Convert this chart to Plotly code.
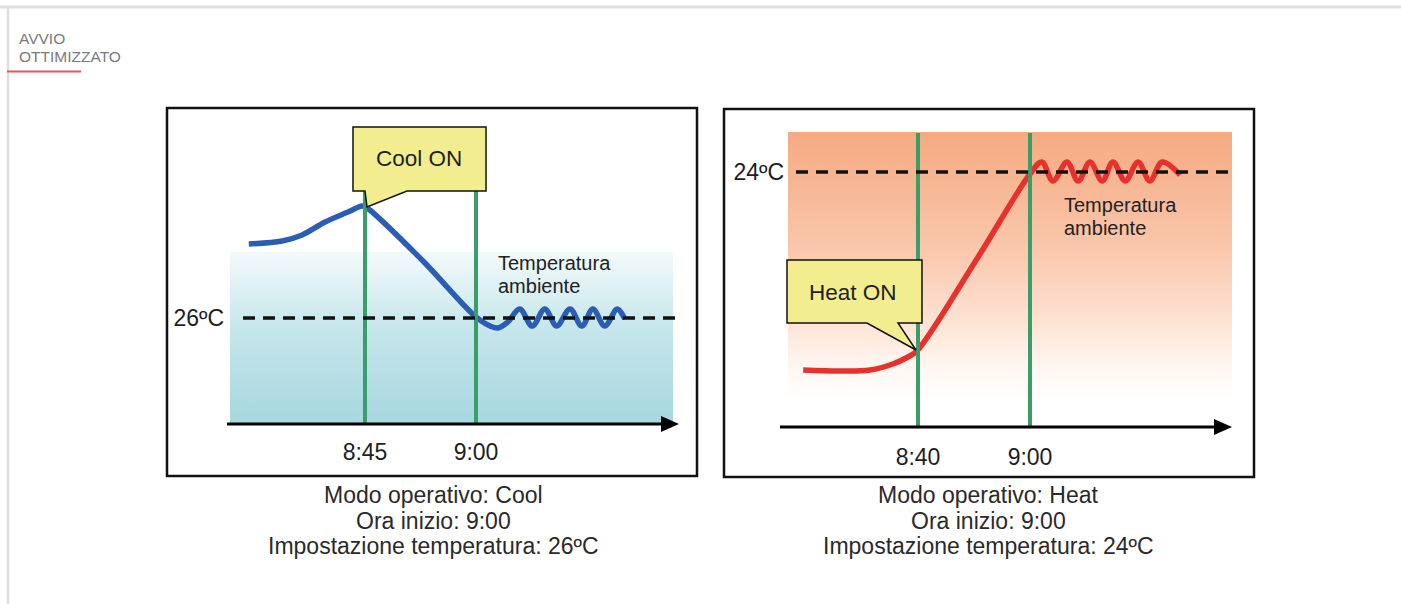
import plotly.graph_objects as go

W, H = 1401, 604

# ---------------- data ----------------
# x = minutes after 8:00, y = room temperature in °C
cool_time = [29.3, 33.8, 36.5, 39.6, 42.7, 44.6, 45.1, 52.7, 60.0, 61.9, 63.0, 64.3,
             65.9, 67.6, 69.3, 70.9, 72.7, 74.3, 75.8, 77.4, 79.1, 80.1]
cool_temp = [29.7, 29.85, 30.15, 30.8, 31.3, 31.6, 31.55, 28.9, 26.05, 25.6, 25.5, 25.8,
             26.45, 25.6, 26.45, 25.6, 26.45, 25.6, 26.45, 25.6, 26.45, 25.95]
cool_setpoint = 26
cool_on_time = 45
cool_tickvals = [45, 60]
cool_ticktext = ["8:45", "9:00"]

heat_time = [19.5, 26.1, 31.4, 35.5, 38.2, 39.8, 50.4, 60.0, 62.1, 64.1, 66.6, 68.6,
             70.7, 72.9, 74.8, 77.0, 79.3, 81.4, 83.6, 86.8]
heat_temp = [14.1, 14.05, 14.1, 14.4, 14.75, 15.05, 19.6, 23.9, 24.5, 23.55, 24.5, 23.55,
             24.5, 23.55, 24.5, 23.55, 24.5, 23.55, 24.5, 23.85]
heat_setpoint = 24
heat_on_time = 40
heat_tickvals = [40, 60]
heat_ticktext = ["8:40", "9:00"]

start_time = 60
setpoint_labels = ["26ºC", "24ºC"]
callout_texts = ["Cool ON", "Heat ON"]
curve_label = ["Temperatura", "ambiente"]
captions_cool = ["Modo operativo: Cool", "Ora inizio: 9:00", "Impostazione temperatura: 26ºC"]
captions_heat = ["Modo operativo: Heat", "Ora inizio: 9:00", "Impostazione temperatura: 24ºC"]
title_lines = ["AVVIO", "OTTIMIZZATO"]

# ---------------- layout geometry (pixels) ----------------
FONT = "Liberation Sans, Arial, sans-serif"


def PX(x):
    return x / W


def PY(y):
    return 1 - y / H


# pixel anchors of each panel
L = dict(xdom=(222, 684), ydom=(426, 105), ta=(45, 365), tb=(60, 476), sp_px=318, deg_px=20,
         sp=cool_setpoint)
R = dict(xdom=(776, 1236), ydom=(430, 105), ta=(40, 918), tb=(60, 1030), sp_px=172, deg_px=20,
         sp=heat_setpoint)


def scale(g):
    (ma, pa), (mb, pb) = g["ta"], g["tb"]
    return (pb - pa) / (mb - ma)


def dx(g, p):  # pixel x -> data x
    ma, pa = g["ta"]
    return ma + (p - pa) / scale(g)


def dy(g, p):  # pixel y -> data y
    return g["sp"] - (p - g["sp_px"]) / g["deg_px"]


def ranges(g):
    return [dx(g, g["xdom"][0]), dx(g, g["xdom"][1])], [dy(g, g["ydom"][0]), dy(g, g["ydom"][1])]


fig = go.Figure()


def add_panel(g, xa, ya, times, temps, on_time, setpoint, color, fill_box, fill_scale,
              guide_top_px, axis_px, dash_px):
    xs, ys = xa.replace("axis", ""), ya.replace("axis", "")
    fx0, fx1 = dx(g, fill_box[0]), dx(g, fill_box[1])
    fy0, fy1 = dy(g, fill_box[2]), dy(g, fill_box[3])
    fig.add_trace(go.Scatter(
        x=[fx0, fx1, fx1, fx0, fx0], y=[fy0, fy0, fy1, fy1, fy0], mode="lines",
        fill="toself", line=dict(width=0), fillgradient=dict(type="vertical", colorscale=fill_scale),
        hoverinfo="skip", showlegend=False, xaxis=xs, yaxis=ys))
    fig.add_trace(go.Scatter(
        x=times, y=temps, mode="lines", line=dict(color=color, width=5.5, shape="spline", smoothing=1.0),
        hoverinfo="skip", showlegend=False, xaxis=xs, yaxis=ys))
    for t in (on_time, start_time):
        fig.add_trace(go.Scatter(
            x=[t, t], y=[dy(g, axis_px), dy(g, guide_top_px)], mode="lines",
            line=dict(color="#3b9d69", width=4), hoverinfo="skip", showlegend=False,
            xaxis=xs, yaxis=ys))
    fig.add_trace(go.Scatter(
        x=[dx(g, dash_px[0]), dx(g, dash_px[1])], y=[setpoint, setpoint], mode="lines",
        line=dict(color="#111111", width=3.5, dash="12px,8px"), hoverinfo="skip",
        showlegend=False, xaxis=xs, yaxis=ys))


add_panel(L, "xaxis", "yaxis", cool_time, cool_temp, cool_on_time, cool_setpoint, "#2a5db3",
          (230, 673, 424, 252),
          [[0, "#a6d7df"], [0.55, "#c5e6eb"], [0.85, "#e4f3f5"], [1, "#f3fafb"]],
          185, 424, (243, 681))
add_panel(R, "xaxis2", "yaxis2", heat_time, heat_temp, heat_on_time, heat_setpoint, "#e8302c",
          (788, 1232, 400, 132),
          [[0, "#ffffff"], [0.14, "#fff5ef"], [0.3, "#fde2d2"], [0.55, "#f9c8ad"], [1, "#f5aa81"]],
          133, 427, (796, 1233))

lxr, lyr = ranges(L)
rxr, ryr = ranges(R)
tickfont = dict(family=FONT, size=23, color="#1e1e1e")
common = dict(showgrid=False, zeroline=False, showline=False, fixedrange=True)

fig.update_layout(
    width=W, height=H, margin=dict(l=0, r=0, t=0, b=0),
    paper_bgcolor="white", plot_bgcolor="rgba(0,0,0,0)", showlegend=False,
    xaxis=dict(domain=[PX(L["xdom"][0]), PX(L["xdom"][1])], range=lxr, tickvals=cool_tickvals,
               ticktext=cool_ticktext, ticks="", ticklabelstandoff=10, tickfont=tickfont,
               anchor="y", **common),
    yaxis=dict(domain=[PY(L["ydom"][0]), PY(L["ydom"][1])], range=lyr, tickvals=[cool_setpoint],
               ticktext=[setpoint_labels[0]], ticks="", anchor="free", position=PX(226),
               ticklabelstandoff=2, tickfont=tickfont, **common),
    xaxis2=dict(domain=[PX(R["xdom"][0]), PX(R["xdom"][1])], range=rxr, tickvals=heat_tickvals,
                ticktext=heat_ticktext, ticks="", ticklabelstandoff=11, tickfont=tickfont,
                anchor="y2", **common),
    yaxis2=dict(domain=[PY(R["ydom"][0]), PY(R["ydom"][1])], range=ryr, tickvals=[heat_setpoint],
                ticktext=[setpoint_labels[1]], ticks="", anchor="free", position=PX(786),
                ticklabelstandoff=2, tickfont=tickfont, **common),
)

shapes = []


def line(x0, y0, x1, y1, color, width):
    shapes.append(dict(type="line", xref="paper", yref="paper", x0=PX(x0), y0=PY(y0),
                       x1=PX(x1), y1=PY(y1), line=dict(color=color, width=width), layer="above"))


def path(points, fill, lc="black", lw=0):
    d = "M " + " L ".join(f"{PX(x):.5f},{PY(y):.5f}" for x, y in points) + " Z"
    shapes.append(dict(type="path", xref="paper", yref="paper", path=d, fillcolor=fill,
                       line=dict(color=lc, width=lw), layer="above"))


# page frame and header underline
line(0, 7, W, 7, "#dedede", 3)
line(8, 7, 8, H, "#dedede", 2.5)
line(7, 71.5, 81, 71.5, "#e25656", 2)

# panel frames
for (x0, y0, x1, y1) in [(167, 108, 697, 476), (724, 109, 1254, 477)]:
    shapes.append(dict(type="rect", xref="paper", yref="paper", x0=PX(x0), y0=PY(y0),
                       x1=PX(x1), y1=PY(y1), line=dict(color="#111111", width=2.5), layer="above"))

# time axes with arrowheads
line(227, 424, 664, 424, "black", 3)
path([(661, 416), (679, 424), (661, 432)], "black")
line(780, 427, 1217, 427, "black", 3)
path([(1214, 419), (1232, 427), (1214, 435)], "black")

# callouts
path([(353, 127), (486, 127), (486, 191), (407, 191), (367, 207), (365, 191), (353, 191)],
     "#f2ee90", "#111111", 1.5)
path([(787, 260), (922, 260), (922, 323), (898, 323), (916, 350), (867, 323), (787, 323)],
     "#f2ee90", "#111111", 1.5)

fig.update_layout(shapes=shapes)

ann = []


def text(s, x, y, size, color="#1e1e1e", xanchor="center"):
    ann.append(dict(text=s, x=PX(x), y=PY(y), xref="paper", yref="paper", showarrow=False,
                    xanchor=xanchor, yanchor="middle", font=dict(family=FONT, size=size, color=color)))


text(title_lines[0], 17, 38.5, 15.5, "#7a7a7a", "left")
text(title_lines[1], 17, 56, 15.5, "#7a7a7a", "left")

text(callout_texts[0], 419, 158, 22.5)
text(callout_texts[1], 853, 292, 22.5)

text(curve_label[0], 496, 263, 20, "#222222", "left")
text(curve_label[1], 496, 286, 20, "#222222", "left")
text(curve_label[0], 1062, 205, 20, "#222222", "left")
text(curve_label[1], 1062, 228, 20, "#222222", "left")

for i, (a, b) in enumerate(zip(captions_cool, captions_heat)):
    y = 495 + i * 25.5
    text(a, 433, y, 23, "#2a2a2a")
    text(b, 988, y, 23, "#2a2a2a")

fig.update_layout(annotations=ann)

fig.write_html("out.html", config={"displayModeBar": False},
               post_script="document.body.style.margin='0px';")
